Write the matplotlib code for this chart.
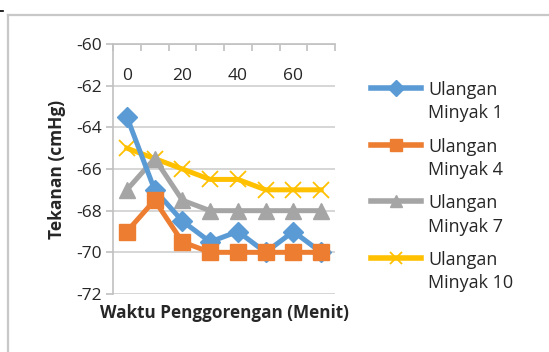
import matplotlib
matplotlib.use("Agg")
import matplotlib.pyplot as plt
from matplotlib.lines import Line2D
from matplotlib.legend_handler import HandlerLine2D

plt.rcParams['font.family'] = ['Open Sans', 'DejaVu Sans']
plt.rcParams['axes.unicode_minus'] = False

waktu = [0, 10, 20, 30, 40, 50, 60, 70]
tick_labels = ['0', '20', '40', '60']
tick_pos = [0, 20, 40, 60]
minyak1 = [-63.5, -67.0, -68.5, -69.5, -69.0, -70.0, -69.0, -70.0]
minyak4 = [-69.0, -67.5, -69.5, -70.0, -70.0, -70.0, -70.0, -70.0]
minyak7 = [-67.0, -65.5, -67.5, -68.0, -68.0, -68.0, -68.0, -68.0]
minyak10 = [-65.0, -65.5, -66.0, -66.5, -66.5, -67.0, -67.0, -67.0]
labels = ['Ulangan\nMinyak 1', 'Ulangan\nMinyak 4', 'Ulangan\nMinyak 7', 'Ulangan\nMinyak 10']

W, H = 549, 352
fig = plt.figure(figsize=(W/100, H/100), dpi=100)

# chart border
fig.add_artist(Line2D([7.5/W, 7.5/W], [0, 1-15/H], color='#c8c8c8', lw=1.6, transform=fig.transFigure))
fig.add_artist(Line2D([7.5/W, 1], [1-15/H, 1-15/H], color='#c8c8c8', lw=1.6, transform=fig.transFigure))
fig.add_artist(Line2D([0, 3/W], [1-10.5/H, 1-10.5/H], color='black', lw=1.2, transform=fig.transFigure))

left, right, top, bottom = 113/W, 335/W, 1-44/H, 1-294/H
ax = fig.add_axes([left, bottom, right-left, top-bottom])

lw = 3.6
ax.plot(waktu, minyak1, color='#5B9BD5', lw=lw, marker='D', ms=10, label=labels[0], zorder=3)
ax.plot(waktu, minyak4, color='#ED7D31', lw=lw, marker='s', ms=12, label=labels[1], zorder=4)
ax.plot(waktu, minyak7, color='#A5A5A5', lw=lw, marker='^', ms=12, label=labels[2], zorder=2)
ax.plot(waktu, minyak10, color='#FFC000', lw=lw, marker='x', ms=11, mew=1.3, label=labels[3], zorder=1)

ax.set_xlim(-5, 75)
ax.set_ylim(-72, -60)
ax.set_yticks([-72, -70, -68, -66, -64, -62, -60])
ax.yaxis.grid(True, color='#d0d0d0', lw=1.2)
ax.set_axisbelow(True)

for s in ['right', 'bottom']:
    ax.spines[s].set_visible(False)
for s in ['left', 'top']:
    ax.spines[s].set_color('#c0c0c0')
    ax.spines[s].set_linewidth(1.2)

ax.tick_params(axis='y', labelsize=12.5, colors='#c0c0c0', labelcolor='#262626', length=5, width=1.2, direction='out', pad=3)

ax.xaxis.tick_top()
ax.set_xticks(tick_pos)
ax.set_xticklabels(tick_labels)
ax.set_xticks([-5 + 10*i for i in range(9)], minor=True)
ax.tick_params(axis='x', which='major', length=0, labelsize=12.5, labelcolor='#262626', pad=-29)
ax.tick_params(axis='x', which='minor', length=5, width=1.2, color='#c0c0c0', direction='in')

ax.set_ylabel('Tekanan (cmHg)', fontsize=12.5, fontweight='bold', color='#262626', labelpad=7)
fig.text(224/W, 1-313/H, 'Waktu Penggorengan (Menit)', fontsize=12.3, fontweight='bold',
         color='#262626', ha='center', va='center')


class TopHandler(HandlerLine2D):
    def create_artists(self, legend, orig_handle, xdescent, ydescent, width, height, fontsize, trans):
        arts = super().create_artists(legend, orig_handle, xdescent, ydescent, width, height, fontsize, trans)
        for a in arts:
            a.set_ydata([y + fontsize * 0.8 for y in a.get_ydata()])
        return arts


leg = ax.legend(loc='upper left', bbox_to_anchor=(371/W, 1-81/H), bbox_transform=fig.transFigure,
                frameon=False, fontsize=13, handlelength=2.75, handletextpad=0.4,
                labelspacing=0.85, borderaxespad=0, borderpad=0,
                handler_map={Line2D: TopHandler()})
for t in leg.get_texts():
    t.set_color('#262626')
    t.set_linespacing(1.38)
for h in leg.legend_handles:
    h.set_markersize(8)
    h.set_linewidth(4)

fig.savefig('out.png', dpi=100)
